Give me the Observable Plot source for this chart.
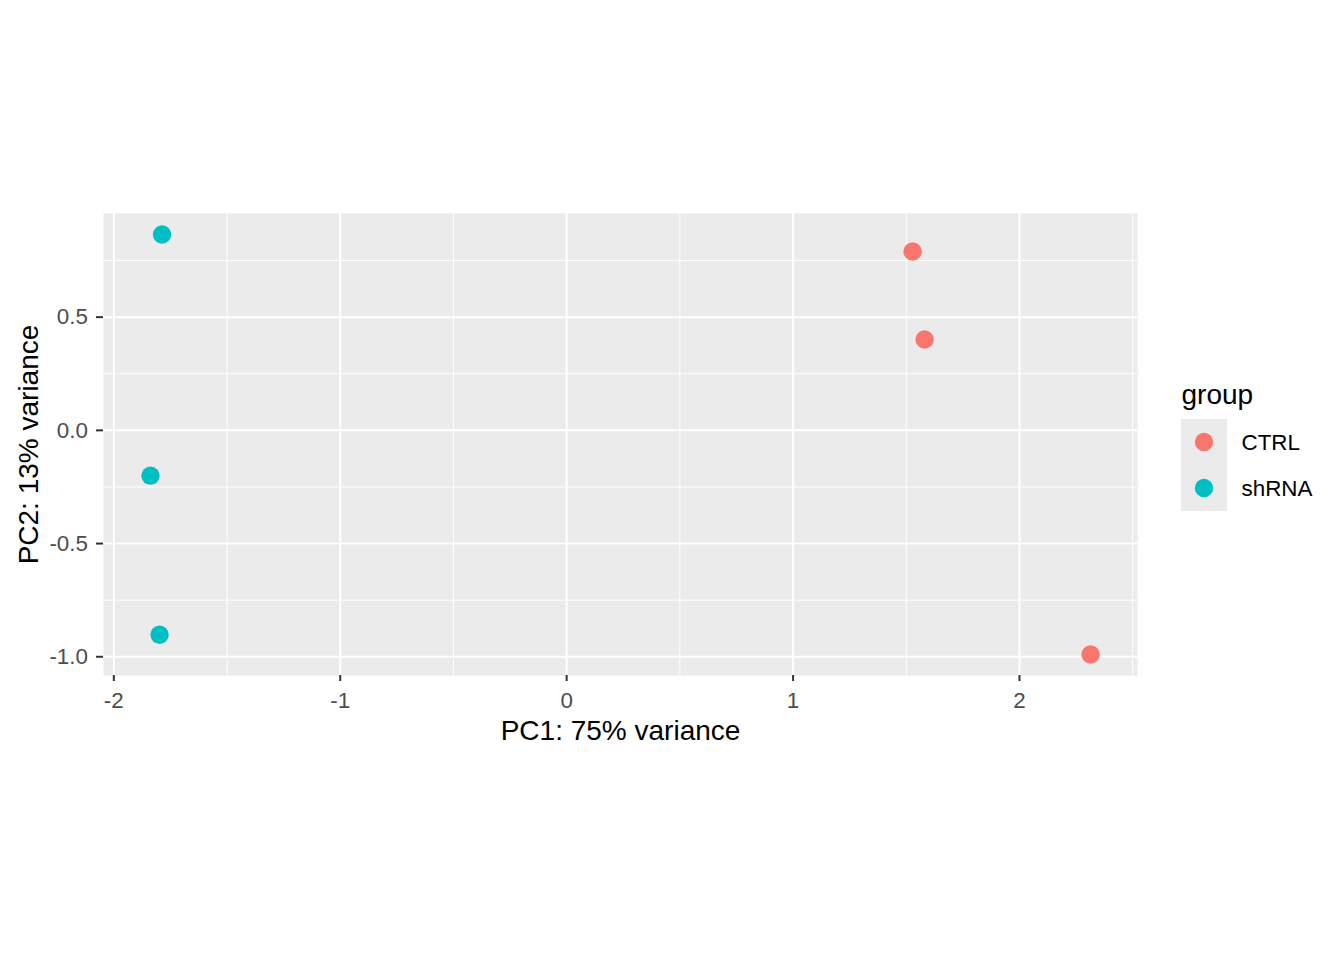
<!DOCTYPE html>
<html><head><meta charset="utf-8">
<script src="https://cdn.jsdelivr.net/npm/d3@7"></script>
<script src="https://cdn.jsdelivr.net/npm/@observablehq/plot@0.6"></script>
<style>
body{margin:0;background:#fff;font-family:"Liberation Sans",Arial,sans-serif;}
#wrap{position:relative;width:1344px;height:960px;}
g[aria-label="x-axis tick label"] text, g[aria-label="y-axis tick label"] text{fill:#4D4D4D;}
</style></head><body><div id="wrap"></div>
<script>
const samples = ["CTRL_1","CTRL_2","CTRL_3","shRNA_1","shRNA_2","shRNA_3"];
const groups = ["CTRL","CTRL","CTRL","shRNA","shRNA","shRNA"];
const pc1 = [1.528, 1.581, 2.314, -1.787, -1.838, -1.798];
const pc2 = [0.790, 0.401, -0.990, 0.865, -0.200, -0.903];
const groupLevels = ["CTRL","shRNA"];
const groupColors = ["#F8766D","#00BFC4"];
const xTicks = [-2, -1, 0, 1, 2];
const yTicks = [-1.0, -0.5, 0.0, 0.5];
const xMinor = [-1.5, -0.5, 0.5, 1.5, 2.5];
const yMinor = [-0.75, -0.25, 0.25, 0.75];
const xTitle = "PC1: 75% variance";
const yTitle = "PC2: 13% variance";
const legendTitle = "group";

const data = samples.map((s, i) => ({sample: s, group: groups[i], x: pc1[i], y: pc2[i]}));
function expand(arr) {
  const [a, b] = d3.extent(arr);
  const p = (b - a) * 0.05;
  return [a - p, b + p];
}
const xDom = expand(pc1), yDom = expand(pc2);

const W = 1344, H = 960;
const mL = 103, mT = 213, mB = 285;
const panelH = H - mT - mB;
const pxPerUnit = panelH / (yDom[1] - yDom[0]);
const panelW = pxPerUnit * (xDom[1] - xDom[0]);
const mR = W - mL - panelW;

const plot = Plot.plot({
  width: W, height: H,
  marginLeft: mL, marginRight: mR, marginTop: mT, marginBottom: mB,
  style: {fontFamily: '"Liberation Sans", Arial, sans-serif', background: "white", overflow: "visible"},
  x: {domain: xDom},
  y: {domain: yDom},
  color: {domain: groupLevels, range: groupColors},
  marks: [
    Plot.frame({fill: "#EBEBEB", stroke: "none"}),
    Plot.ruleX(xMinor, {stroke: "white", strokeWidth: 1}),
    Plot.ruleY(yMinor, {stroke: "white", strokeWidth: 1}),
    Plot.ruleX(xTicks, {stroke: "white", strokeWidth: 2}),
    Plot.ruleY(yTicks, {stroke: "white", strokeWidth: 2}),
    Plot.axisX(xTicks, {tickSize: 6, tickPadding: 10.5, tickFormat: d => String(d), fontSize: 22.4, label: null, stroke: "#333333", strokeWidth: 2, fill: "#4D4D4D"}),
    Plot.axisY(yTicks, {tickSize: 7, tickPadding: 8.5, tickFormat: d => d.toFixed(1), fontSize: 22.4, label: null, stroke: "#333333", strokeWidth: 2, fill: "#4D4D4D"}),
    Plot.dot(data, {x: "x", y: "y", fill: "group", r: 9.2, stroke: "none"}),
    Plot.text([xTitle], {text: d => d, frameAnchor: "bottom", dy: 64.5, lineAnchor: "bottom", textAnchor: "middle", fontSize: 28, fill: "black"}),
    Plot.text([yTitle], {text: d => d, frameAnchor: "left", dx: -65.5, rotate: -90, lineAnchor: "bottom", textAnchor: "middle", fontSize: 28, fill: "black"})
  ]
});
document.getElementById("wrap").appendChild(plot);

// legend
const svg = d3.select(plot);
const lg = svg.append("g").attr("font-family", '"Liberation Sans", Arial, sans-serif').attr("text-anchor", "start");
const lx = 1181, ly = 419, key = 46;
lg.append("text").attr("x", lx + 0.5).attr("y", 404).attr("font-size", 28).attr("fill", "black").attr("text-anchor", "start").text(legendTitle);
lg.append("rect").attr("x", lx).attr("y", ly).attr("width", key).attr("height", key * groupLevels.length).attr("fill", "#EBEBEB");
groupLevels.forEach((g, i) => {
  const cy = ly + key * i + key / 2;
  lg.append("circle").attr("cx", lx + key / 2).attr("cy", cy).attr("r", 9.2).attr("fill", groupColors[i]);
  lg.append("text").attr("x", 1241.5).attr("y", cy + 8).attr("font-size", 22.4).attr("fill", "black").attr("text-anchor", "start").text(g);
});
</script></body></html>
